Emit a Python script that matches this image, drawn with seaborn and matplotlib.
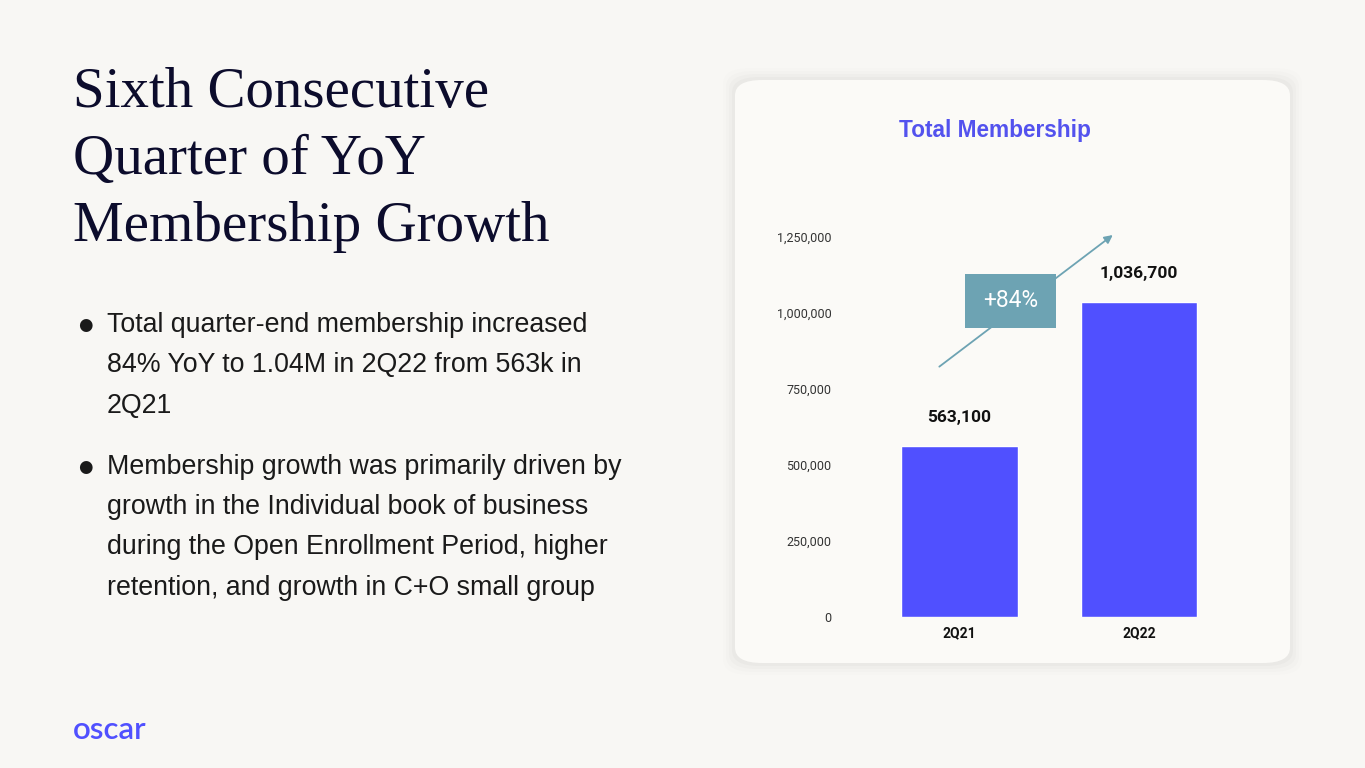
import matplotlib
matplotlib.use("Agg")
import matplotlib.pyplot as plt
import seaborn as sns
import pandas as pd
from matplotlib.patches import FancyBboxPatch, Rectangle
from matplotlib.ticker import FuncFormatter

quarters = ["2Q21", "2Q22"]
members = [563100, 1036700]
yticks = [0, 250000, 500000, 750000, 1000000, 1250000]
growth_label = "+84%"

title_lines = ["Sixth Consecutive", "Quarter of YoY", "Membership Growth"]
bullets = [
    ["Total quarter-end membership increased",
     "84% YoY to 1.04M in 2Q22 from 563k in",
     "2Q21"],
    ["Membership growth was primarily driven by",
     "growth in the Individual book of business",
     "during the Open Enrollment Period, higher",
     "retention, and growth in C+O small group"],
]

BG = "#F8F7F4"
CARD = "#FBFAF7"
BAR = "#5050FF"
TEAL = "#6DA3B3"
NAVY = "#0C0C2C"

sns.set_theme(style="white")
plt.rcParams["font.family"] = ["Roboto", "DejaVu Sans"]

W, H = 1365, 768
fig = plt.figure(figsize=(13.65, 7.68), dpi=100, facecolor=BG)

# card with soft shadow
for i, a in enumerate([0.008, 0.012, 0.016, 0.02]):
    pad = (4 - i) * 3
    fig.patches.append(FancyBboxPatch(
        ((735 - pad) / W, 1 - (663 + pad) / H), (555 + 2 * pad) / W, (583 + 2 * pad) / H,
        boxstyle="round,pad=0,rounding_size=0.02", transform=fig.transFigure,
        facecolor="#000000", alpha=a, edgecolor="none", zorder=-3))
fig.patches.append(FancyBboxPatch(
    (735 / W, 1 - 663 / H), 555 / W, 583 / H,
    boxstyle="round,pad=0,rounding_size=0.02", transform=fig.transFigure,
    facecolor=CARD, edgecolor="none", zorder=-2))

# left text
for i, line in enumerate(title_lines):
    fig.text(73 / W, 1 - (93 + i * 67) / H, line, family="Liberation Serif",
             fontsize=41, color=NAVY, va="center", ha="left")

y = 325
for para in bullets:
    fig.text(78 / W, 1 - y / H, "\u25CF", family="DejaVu Sans", fontsize=12,
             color="#1a1a1a", va="center", ha="left")
    for line in para:
        fig.text(107 / W, 1 - y / H, line, family="Liberation Sans", fontsize=19.3,
                 color="#1a1a1a", va="center", ha="left")
        y += 40.5
    y += 20

fig.text(73 / W, 1 - 730 / H, "oscar", family="Lato", fontweight="semibold",
         fontsize=22.5, color=BAR, va="center", ha="left")

fig.text(995 / W, 1 - 130 / H, "Total Membership", family="Liberation Sans",
         fontweight="bold", fontsize=16.3, color="#5352EE", va="center", ha="center")

# chart
ax = fig.add_axes([840 / W, 1 - 617 / H, 420 / W, 380 / H])
ax.set_facecolor("none")
df = pd.DataFrame({"quarter": quarters, "members": members})
sns.barplot(data=df, x="quarter", y="members", color=BAR, saturation=1,
            width=0.65, ax=ax)
ax.set_xlim(-0.666, 1.674)
ax.set_ylim(0, 1250000)
ax.set_yticks(yticks)
ax.yaxis.set_major_formatter(FuncFormatter(lambda v, p: f"{int(v):,}"))
ax.tick_params(axis="y", labelsize=9, colors="#333333", length=0, pad=6)
ax.tick_params(axis="x", labelsize=10, colors="#111111", length=0, pad=7)
for lab in ax.get_xticklabels():
    lab.set_fontweight("bold")
ax.set_xlabel("")
ax.set_ylabel("")
for s in ax.spines.values():
    s.set_visible(False)

for i, v in enumerate(members):
    ax.text(i, v + 92000, f"{v:,}", ha="center", va="center", fontsize=12.5,
            fontweight="bold", color="#111111")

ax.annotate("", xy=(0.866, 1262000), xytext=(-0.125, 818000),
            arrowprops=dict(arrowstyle="-|>", color=TEAL, lw=1.3,
                            mutation_scale=12), annotation_clip=False)
ax.add_patch(Rectangle((0.031, 950000), 0.507, 178000, facecolor=TEAL,
                       edgecolor="none", zorder=4, clip_on=False))
ax.text(0.284, 1040000, growth_label, ha="center", va="center", fontsize=16.4,
        color="white", zorder=5)

fig.savefig("out.png", dpi=100, facecolor=BG)
